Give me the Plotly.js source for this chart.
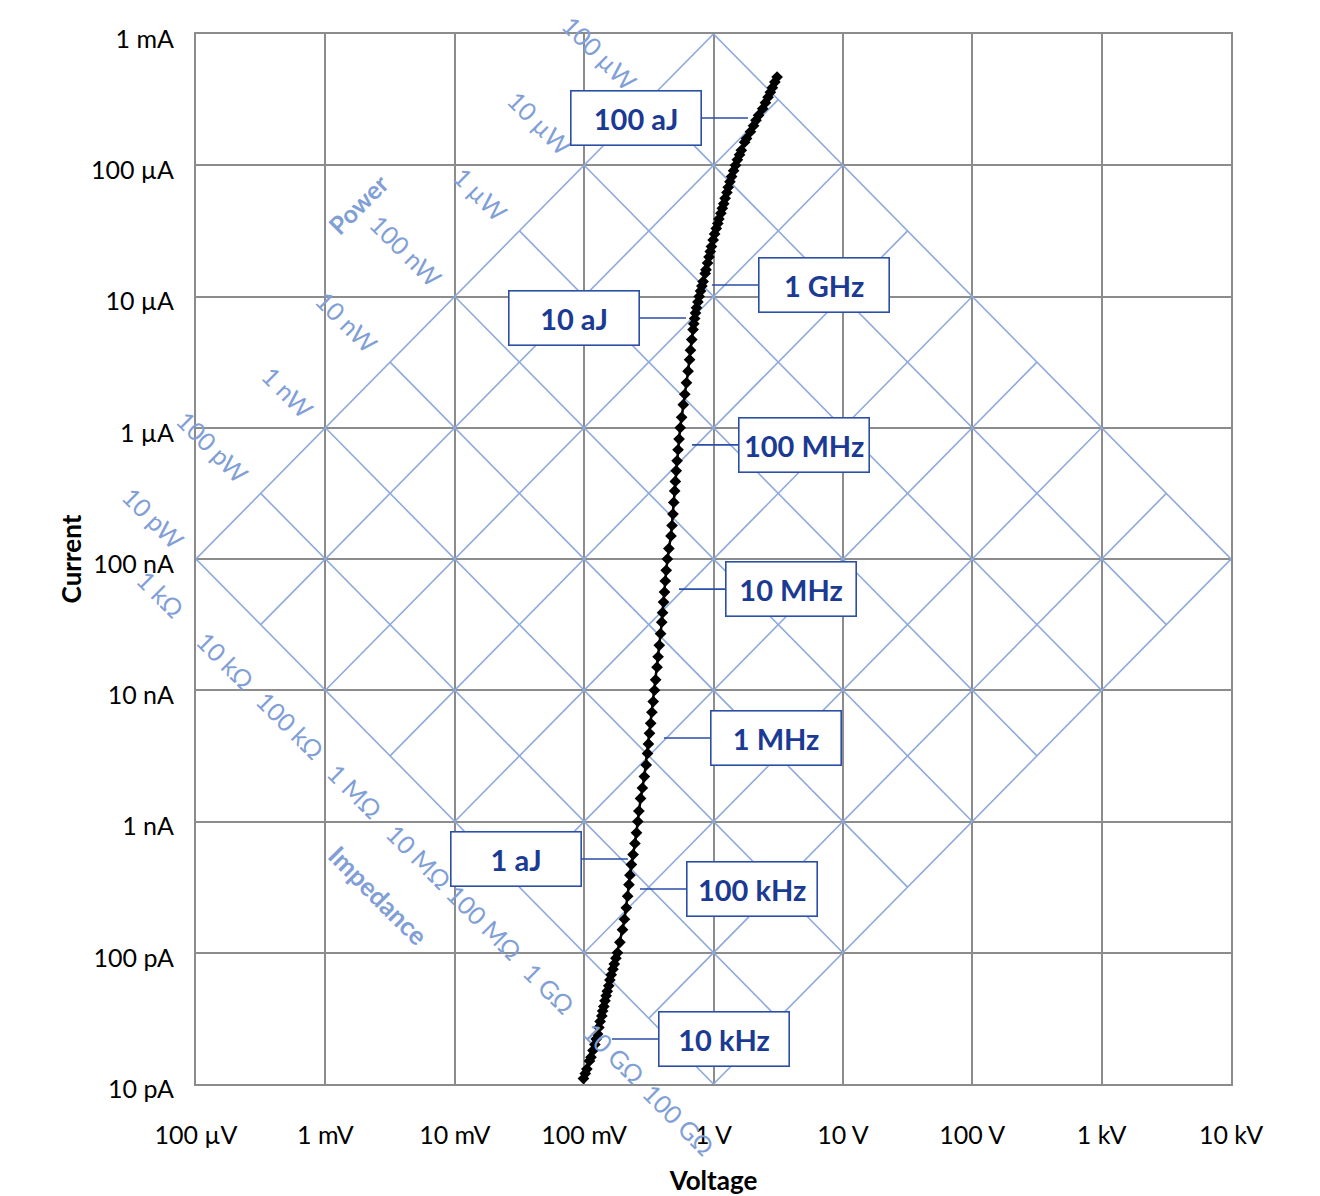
<!DOCTYPE html>
<html><head><meta charset="utf-8">
<script src="https://cdn.plot.ly/plotly-3.0.1.min.js"></script>
<style>html,body{margin:0;padding:0;background:#fff}#chart{width:1320px;height:1196px}</style>
</head><body><div id="chart"></div>
<script>
// ---- data ----
const current = [
  4.7e-4, 4.3e-4, 3.9e-4, 3.6e-4, 3.3e-4, 3.0e-4, 2.7e-4, 2.4e-4, 2.2e-4, 2.0e-4, 1.8e-4, 1.6e-4, 1.5e-4, 1.3e-4, 1.2e-4, 1.1e-4, 1.0e-4,
  9.1e-5, 8.2e-5, 7.5e-5, 6.8e-5, 6.2e-5, 5.6e-5, 5.1e-5, 4.7e-5, 4.3e-5, 3.9e-5, 3.6e-5, 3.3e-5, 3.0e-5, 2.7e-5, 2.4e-5, 2.2e-5, 2.0e-5, 1.8e-5, 1.6e-5, 1.5e-5, 1.3e-5, 1.2e-5, 1.1e-5, 1.0e-5,
  9.1e-6, 8.2e-6, 7.5e-6, 6.8e-6, 6.2e-6, 5.6e-6, 4.7e-6, 3.9e-6, 3.3e-6, 2.7e-6, 2.2e-6, 1.8e-6, 1.5e-6, 1.2e-6, 1.0e-6,
  8.2e-7, 6.8e-7, 5.6e-7, 4.7e-7, 3.9e-7, 3.3e-7, 2.7e-7, 2.2e-7, 1.8e-7, 1.5e-7, 1.2e-7, 1.0e-7,
  8.2e-8, 6.8e-8, 5.6e-8, 4.7e-8, 3.9e-8, 3.3e-8, 2.7e-8, 2.2e-8, 1.8e-8, 1.5e-8, 1.2e-8, 1.0e-8,
  8.2e-9, 6.8e-9, 5.6e-9, 4.7e-9, 3.9e-9, 3.3e-9, 2.7e-9, 2.2e-9, 1.8e-9, 1.5e-9, 1.2e-9, 1.0e-9,
  8.2e-10, 6.8e-10, 5.6e-10, 4.7e-10, 3.9e-10, 3.3e-10, 2.7e-10, 2.2e-10, 1.8e-10, 1.5e-10, 1.2e-10, 1.0e-10,
  9.1e-11, 8.2e-11, 7.5e-11, 6.8e-11, 6.2e-11, 5.6e-11, 5.1e-11, 4.7e-11, 4.3e-11, 3.9e-11, 3.6e-11, 3.3e-11, 3.0e-11, 2.7e-11, 2.4e-11, 2.2e-11, 2.0e-11, 1.8e-11, 1.6e-11, 1.5e-11, 1.3e-11, 1.2e-11, 1.1e-11
];
const voltage = [
  3.10, 2.98, 2.85, 2.75, 2.64, 2.52, 2.40, 2.23, 2.13, 2.04, 1.93, 1.80, 1.74, 1.64, 1.59, 1.53, 1.48,
  1.43, 1.38, 1.34, 1.30, 1.27, 1.23, 1.20, 1.17, 1.14, 1.10, 1.08, 1.05, 1.02, 0.994, 0.964, 0.944, 0.923, 0.900, 0.875, 0.862, 0.831, 0.813, 0.794, 0.775,
  0.758, 0.739, 0.726, 0.715, 0.704, 0.695, 0.679, 0.664, 0.653, 0.636, 0.618, 0.600, 0.584, 0.567, 0.553,
  0.542, 0.532, 0.523, 0.515, 0.507, 0.501, 0.493, 0.486, 0.478, 0.469, 0.452, 0.440,
  0.431, 0.424, 0.418, 0.411, 0.404, 0.398, 0.390, 0.381, 0.373, 0.366, 0.357, 0.350,
  0.342, 0.334, 0.327, 0.320, 0.314, 0.309, 0.302, 0.292, 0.282, 0.273, 0.265, 0.260,
  0.254, 0.247, 0.239, 0.232, 0.226, 0.222, 0.217, 0.212, 0.205, 0.198, 0.189, 0.181,
  0.176, 0.171, 0.167, 0.162, 0.158, 0.155, 0.151, 0.148, 0.145, 0.142, 0.139, 0.137, 0.133, 0.130, 0.127, 0.124, 0.121, 0.117, 0.113, 0.110, 0.105, 0.102, 0.0988
];

const xTickVals = [1e-4, 1e-3, 1e-2, 1e-1, 1, 10, 100, 1e3, 1e4];
const xTickText = ['100 µV', '1 mV', '10 mV', '100 mV', '1 V', '10 V', '100 V', '1 kV', '10 kV'];
const yTickVals = [1e-11, 1e-10, 1e-9, 1e-8, 1e-7, 1e-6, 1e-5, 1e-4, 1e-3];
const yTickText = ['10 pA', '100 pA', '1 nA', '10 nA', '100 nA', '1 µA', '10 µA', '100 µA', '1 mA'];

const powerLevels = [1e-11, 1e-10, 1e-9, 1e-8, 1e-7, 1e-6, 1e-5, 1e-4, 1e-3];
const powerLabels = ['10 pW', '100 pW', '1 nW', '10 nW', '100 nW', '1 µW', '10 µW', '100 µW', ''];
const impedanceLevels = [1e3, 1e4, 1e5, 1e6, 1e7, 1e8, 1e9, 1e10, 1e11];
const impedanceLabels = ['1 kΩ', '10 kΩ', '100 kΩ', '1 MΩ', '10 MΩ', '100 MΩ', '1 GΩ', '10 GΩ', '100 GΩ'];

const calloutText = ['100 aJ', '1 GHz', '10 aJ', '100 MHz', '10 MHz', '1 MHz', '1 aJ', '100 kHz', '10 kHz'];
const calloutV = [1.848, 0.974, 0.613, 0.682, 0.541, 0.414, 0.218, 0.270, 0.164];
const calloutI = [2.29e-4, 1.225e-5, 6.86e-6, 7.40e-7, 5.90e-8, 4.33e-9, 5.18e-10, 3.06e-10, 2.20e-11];
const calloutSide = [-1, 1, -1, 1, 1, 1, -1, 1, 1];

const groupLabels = ['Power', 'Impedance'];

// ---- styles ----
const FONT = 'Lato, "Open Sans", "Liberation Sans", sans-serif';
const GRID = '#8c8c8c';
const DIAG = '#8eaadb';
const DIAG_TXT = '#819fd6';
const NAVY = '#1b3a93';
const BOX = '#2b4ea6';

// diagonal iso-power / iso-impedance lines (V = sqrt(P*R), I = sqrt(P/R))
const Rmin = impedanceLevels[0], Rmax = impedanceLevels[impedanceLevels.length - 1];
const Pmin = powerLevels[0], Pmax = powerLevels[powerLevels.length - 1];
const dx = [], dy = [];
powerLevels.forEach(P => {
  dx.push(Math.sqrt(P * Rmin), Math.sqrt(P * Rmax), null);
  dy.push(Math.sqrt(P / Rmin), Math.sqrt(P / Rmax), null);
});
impedanceLevels.forEach(R => {
  dx.push(Math.sqrt(Pmin * R), Math.sqrt(Pmax * R), null);
  dy.push(Math.sqrt(Pmin / R), Math.sqrt(Pmax / R), null);
});

const traces = [
  {x: dx, y: dy, type: 'scatter', mode: 'lines', line: {color: DIAG, width: 1.6}, hoverinfo: 'skip', connectgaps: false},
  {x: voltage, y: current, type: 'scatter', mode: 'lines+markers',
   line: {color: '#000', width: 2.5}, marker: {symbol: 'diamond', size: 9, color: '#000'}, hoverinfo: 'skip'}
];

const annotations = [];
powerLevels.forEach((P, i) => {
  if (!powerLabels[i]) return;
  annotations.push({x: Math.log10(Math.sqrt(P * Rmin)), y: Math.log10(Math.sqrt(P / Rmin)),
    xref: 'x', yref: 'y', text: powerLabels[i], showarrow: false, textangle: 45,
    xanchor: 'right', yanchor: 'bottom', xshift: -3, yshift: 1,
    font: {family: FONT, size: 25, color: DIAG_TXT}});
});
impedanceLevels.forEach((R, i) => {
  annotations.push({x: Math.log10(Math.sqrt(Pmin * R)), y: Math.log10(Math.sqrt(Pmin / R)),
    xref: 'x', yref: 'y', text: impedanceLabels[i], showarrow: false, textangle: 45,
    xanchor: 'center', yanchor: 'middle', xshift: -35, yshift: -35,
    font: {family: FONT, size: 25, color: DIAG_TXT}});
});
annotations.push({x: -2.748, y: -4.295, xref: 'x', yref: 'y', text: groupLabels[0], showarrow: false,
  textangle: -45, font: {family: FONT, size: 25, color: DIAG_TXT, weight: 700}});
annotations.push({x: -2.593, y: -9.560, xref: 'x', yref: 'y', text: groupLabels[1], showarrow: false,
  textangle: 45, font: {family: FONT, size: 26, color: DIAG_TXT, weight: 700}});

calloutText.forEach((t, i) => {
  annotations.push({x: Math.log10(calloutV[i]), y: Math.log10(calloutI[i]), xref: 'x', yref: 'y',
    text: t, showarrow: true, arrowhead: 0, arrowwidth: 1.6, arrowcolor: BOX, standoff: 0,
    ax: calloutSide[i] * 112, ay: 0, axref: 'pixel', ayref: 'pixel',
    width: 125, height: 49, borderpad: 2, borderwidth: 1.6, bordercolor: BOX, bgcolor: '#fff',
    align: 'center', valign: 'middle',
    font: {family: FONT, size: 29, color: NAVY, weight: 700}});
});

const axisCommon = {
  type: 'log', showgrid: true, gridcolor: GRID, gridwidth: 2, zeroline: false,
  showline: true, mirror: true, linecolor: GRID, linewidth: 2, ticks: '', fixedrange: true,
  tickfont: {family: FONT, size: 25, color: '#000'}
};

const layout = {
  width: 1320, height: 1196,
  margin: {l: 196, r: 89, t: 34, b: 112, pad: 0},
  paper_bgcolor: '#fff', plot_bgcolor: '#fff', showlegend: false,
  font: {family: FONT, size: 25, color: '#000'},
  xaxis: Object.assign({}, axisCommon, {range: [-4, 4], tickvals: xTickVals, ticktext: xTickText,
    ticklabelstandoff: 28,
    title: {text: 'Voltage', standoff: 40, font: {family: FONT, size: 26, color: '#000', weight: 700}}}),
  yaxis: Object.assign({}, axisCommon, {range: [-11, -3], tickvals: yTickVals, ticktext: yTickText,
    ticklabelstandoff: 15, ticklabelshift: 5,
    title: {text: 'Current', standoff: 2, font: {family: FONT, size: 26, color: '#000', weight: 700}}}),
  annotations: annotations
};

Plotly.newPlot('chart', traces, layout, {staticPlot: true, displayModeBar: false});
</script>
</body></html>
